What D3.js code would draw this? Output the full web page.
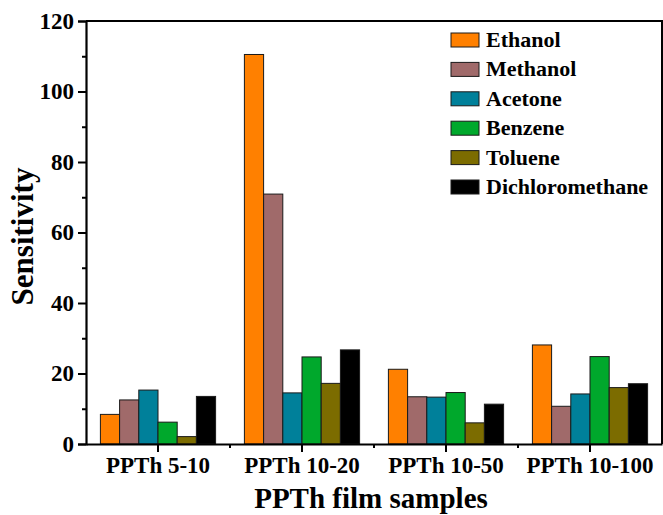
<!DOCTYPE html>
<html>
<head>
<meta charset="utf-8">
<script src="https://cdn.jsdelivr.net/npm/d3@7"></script>
<style>
  body { margin: 0; background: #fff; }
  svg text { font-family: "Liberation Serif", "Times New Roman", serif; font-weight: bold; fill: #000; }
</style>
</head>
<body>
<svg id="chart" width="663" height="515"></svg>
<script>
// data
var samples = ['PPTh 5-10', 'PPTh 10-20', 'PPTh 10-50', 'PPTh 10-100'];
var gases = ['Ethanol', 'Methanol', 'Acetone', 'Benzene', 'Toluene', 'Dichloromethane'];
var colors = ['#FF8000', '#A06A6A', '#00809A', '#00A82C', '#7C6C00', '#000000'];

var ethanol  = [8.4, 110.5, 21.2, 28.1];
var methanol = [12.5, 70.9, 13.4, 10.7];
var acetone  = [15.3, 14.5, 13.3, 14.2];
var benzene  = [6.2, 24.7, 14.6, 24.8];
var toluene  = [2.1, 17.2, 6.0, 16.0];
var dcm      = [13.5, 26.7, 11.3, 17.1];
var series = [ethanol, methanol, acetone, benzene, toluene, dcm];

var yTicks = [0, 20, 40, 60, 80, 100, 120];
var yMinorTicks = [10, 30, 50, 70, 90, 110];

var svg = d3.select('#chart');
var m = { left: 86, right: 662, top: 21, bottom: 444 };

var x = d3.scaleBand().domain(samples).range([m.left, m.right]);
// bars fill the middle 80% of each band
var xInner = d3.scaleBand().domain(gases)
  .range([x.bandwidth() * 0.1, x.bandwidth() * 0.9]);
var y = d3.scaleLinear().domain([0, 120]).range([m.bottom, m.top]);

// bars
var groups = svg.append('g').selectAll('g')
  .data(samples)
  .enter().append('g')
  .attr('transform', function (d) { return 'translate(' + x(d) + ',0)'; });

groups.selectAll('rect')
  .data(function (d, i) {
    return gases.map(function (g, j) { return { gas: g, value: series[j][i], color: colors[j] }; });
  })
  .enter().append('rect')
  .attr('x', function (d) { return xInner(d.gas); })
  .attr('width', xInner.bandwidth())
  .attr('y', function (d) { return y(d.value); })
  .attr('height', function (d) { return m.bottom - y(d.value); })
  .attr('fill', function (d) { return d.color; })
  .attr('stroke', '#1a1a1a')
  .attr('stroke-width', 1);

// frame top and right
svg.append('path')
  .attr('d', 'M' + m.left + ',' + m.top + 'H' + m.right + 'V' + m.bottom)
  .attr('fill', 'none').attr('stroke', '#000').attr('stroke-width', 2);

// y axis
var yAxis = d3.axisLeft(y).tickValues(yTicks).tickSize(8).tickPadding(4);
var ya = svg.append('g').attr('transform', 'translate(' + m.left + ',0)').call(yAxis);
ya.select('.domain').attr('stroke-width', 2.2);
ya.selectAll('.tick line').attr('stroke-width', 2);
ya.selectAll('.tick text').attr('font-size', 23);
var yMinor = d3.axisLeft(y).tickValues(yMinorTicks).tickSize(4).tickFormat('');
var ym = svg.append('g').attr('transform', 'translate(' + m.left + ',0)').call(yMinor);
ym.select('.domain').remove();
ym.selectAll('.tick line').attr('stroke-width', 2);

// x axis
var xAxis = d3.axisBottom(x).tickSize(8).tickPadding(5).tickSizeOuter(0);
var xa = svg.append('g').attr('transform', 'translate(0,' + m.bottom + ')').call(xAxis);
xa.select('.domain').attr('stroke-width', 2.2);
xa.selectAll('.tick line').attr('stroke-width', 2);
xa.selectAll('.tick text').attr('font-size', 23);
// minor ticks on band boundaries
xa.selectAll('.minor')
  .data(samples.slice(1))
  .enter().append('line')
  .attr('x1', function (d) { return x(d); }).attr('x2', function (d) { return x(d); })
  .attr('y1', 0).attr('y2', 4)
  .attr('stroke', '#000').attr('stroke-width', 2);

// axis titles
svg.append('text')
  .attr('x', (m.left + m.right) / 2 - 3).attr('y', 508)
  .attr('text-anchor', 'middle').attr('font-size', 29)
  .text('PPTh film samples');
svg.append('text')
  .attr('transform', 'translate(33,' + ((m.top + m.bottom) / 2 + 4) + ') rotate(-90)')
  .attr('text-anchor', 'middle').attr('font-size', 31)
  .text('Sensitivity');

// legend
var legend = svg.append('g').selectAll('g')
  .data(gases)
  .enter().append('g')
  .attr('transform', function (d, i) { return 'translate(451,' + (40 + i * 29.4) + ')'; });
legend.append('rect')
  .attr('x', 0).attr('y', -7).attr('width', 28).attr('height', 14)
  .attr('fill', function (d, i) { return colors[i]; })
  .attr('stroke', '#1a1a1a').attr('stroke-width', 1);
legend.append('text')
  .attr('x', 35).attr('y', 7)
  .attr('font-size', 22)
  .text(function (d) { return d; });
</script>
</body>
</html>
